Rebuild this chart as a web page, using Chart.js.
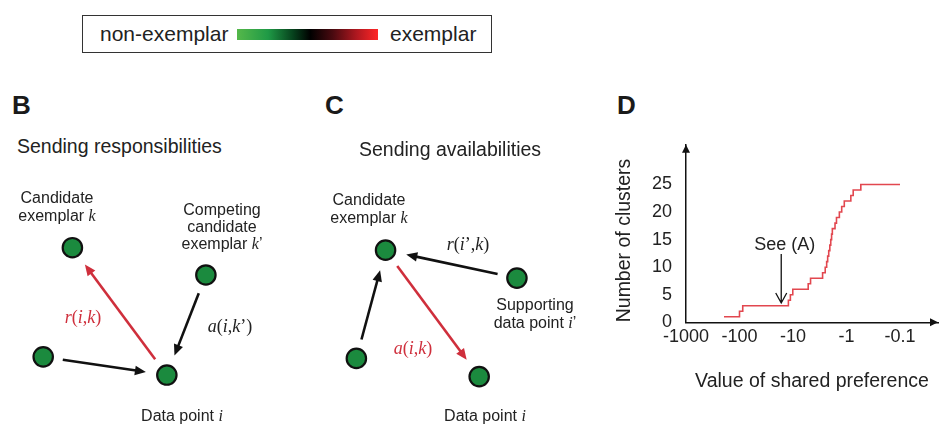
<!DOCTYPE html>
<html>
<head>
<meta charset="utf-8">
<script src="https://cdn.jsdelivr.net/npm/chart.js@4.4.0/dist/chart.umd.min.js"></script>
<style>
  body { margin: 0; background: #fff; }
  #fig { position: relative; width: 939px; height: 424px; overflow: hidden;
         font-family: "Liberation Sans", Arial, sans-serif; color: #222; }
  #fig canvas { position: absolute; }
  .t { position: absolute; white-space: nowrap; line-height: 1.2; z-index: 2; }
  .c { transform: translate(-50%, -50%); text-align: center; }
  .lbl { font-size: 16px; }
  .math { font-family: "Liberation Serif", "Times New Roman", serif; font-size: 18px; }
  .m { font-family: "Liberation Serif", "Times New Roman", serif; font-style: italic; }
  .panel { font-size: 26px; font-weight: bold; line-height: 1; color: #1a1a1a; }
  .red { color: #cf2f3c; }
</style>
</head>
<body>
<div id="fig">
  <!-- colour key -->
  <div style="position:absolute;left:82px;top:15px;width:408px;height:36px;border:1.5px solid #333;"></div>
  <div class="t" style="left:100px;top:21px;font-size:21px;">non-exemplar</div>
  <div style="position:absolute;left:237px;top:29px;width:141px;height:11px;
       background:linear-gradient(to right,#55b84a 0%,#1f9a46 22%,#06401c 40%,#000 52%,#4a0a10 68%,#b01820 85%,#ff2626 100%);"></div>
  <div class="t" style="left:390px;top:21px;font-size:21px;">exemplar</div>

  <!-- panel B -->
  <div class="t panel" style="left:12px;top:92px;">B</div>
  <div class="t" style="left:17px;top:135px;font-size:19.5px;">Sending responsibilities</div>
  <div class="t c lbl" style="left:57px;top:207px;line-height:18px;">Candidate<br>exemplar <span class="m">k</span></div>
  <div class="t c lbl" style="left:222px;top:226px;line-height:17px;">Competing<br>candidate<br>exemplar <span class="m">k</span>’</div>
  <div class="t c math red" style="left:83px;top:318px;"><span class="m">r</span>(<span class="m">i</span>,<span class="m">k</span>)</div>
  <div class="t c math" style="left:230px;top:327px;"><span class="m">a</span>(<span class="m">i</span>,<span class="m">k</span>’)</div>
  <div class="t c lbl" style="left:182px;top:416px;">Data point <span class="m">i</span></div>
  <canvas id="chartB" width="300" height="264" style="left:0;top:160px;"></canvas>

  <!-- panel C -->
  <div class="t panel" style="left:325px;top:92px;">C</div>
  <div class="t" style="left:359px;top:138px;font-size:19.5px;">Sending availabilities</div>
  <div class="t c lbl" style="left:369px;top:209px;line-height:18px;">Candidate<br>exemplar <span class="m">k</span></div>
  <div class="t c math" style="left:468px;top:245px;"><span class="m">r</span>(<span class="m">i</span>’,<span class="m">k</span>)</div>
  <div class="t c lbl" style="left:535px;top:314px;line-height:18px;">Supporting<br>data point <span class="m">i</span>’</div>
  <div class="t c math red" style="left:413px;top:349px;"><span class="m">a</span>(<span class="m">i</span>,<span class="m">k</span>)</div>
  <div class="t c lbl" style="left:485px;top:416px;">Data point <span class="m">i</span></div>
  <canvas id="chartC" width="300" height="264" style="left:300px;top:160px;"></canvas>

  <!-- panel D -->
  <div class="t panel" style="left:617px;top:92px;">D</div>
  <canvas id="chartD" width="339" height="304" style="left:600px;top:120px;"></canvas>
</div>

<script>
// ---- panel B / C diagrams (diagram units, y up) ----
// node order: candidate exemplar k, competing k' / supporting i', other point, data point i
const bNodes = [[6.57, 18.07], [21.07, 15.07], [3.4, 6.07], [16.83, 4.07]];
const bArrows = [
  { from: 3, to: 0, kind: 'message' },   // r(i,k)
  { from: 1, to: 3, kind: 'input' },     // a(i,k')
  { from: 2, to: 3, kind: 'input' }
];
const cNodes = [[8.0, 17.8], [22.27, 14.73], [4.83, 5.9], [18.17, 3.9]];
const cArrows = [
  { from: 1, to: 0, kind: 'input' },     // r(i',k)
  { from: 2, to: 0, kind: 'input' },
  { from: 0, to: 3, kind: 'message' }    // a(i,k)
];

// ---- panel D: number of clusters vs shared preference ----
const preferenceSteps = [-195, -100, -87, -12.2, -11.2, -10.1, -5.2, -4.7, -2.8, -2.5, -2.35, -2.25,
                         -2.15, -2.05, -1.97, -1.9, -1.84, -1.64, -1.54, -1.36, -1.23, -1.1, -0.83, -0.75, -0.54, -0.1];
const clusterCounts = [1, 2, 3, 4, 5, 6, 7, 8, 9, 10, 11, 12, 13, 14, 15, 16, 17, 18, 19, 20, 21, 22, 23, 24, 25, 25];
const xTickValues = [-1000, -100, -10, -1, -0.1];
const xTickLabels = ['-1000', '-100', '-10', '-1', '-0.1'];
const yTickValues = [0, 5, 10, 15, 20, 25];
const seeAPreference = -16.6;   // where the "See (A)" arrow points

Chart.defaults.font.family = '"Liberation Sans", Arial, sans-serif';
Chart.defaults.color = '#222';

const kindColor = { message: '#cf2f3c', input: '#111' };
const START_GAP = 2.15, END_GAP = 2.3, HEAD = 1.0;   // diagram units

const arrowHeads = {
  id: 'arrowHeads',
  afterDatasetsDraw(chart) {
    const { ctx, scales } = chart;
    chart.data.datasets.forEach(ds => {
      if (!ds.tip) return;
      const x0 = scales.x.getPixelForValue(ds.data[0].x), y0 = scales.y.getPixelForValue(ds.data[0].y);
      const tx = scales.x.getPixelForValue(ds.tip.x), ty = scales.y.getPixelForValue(ds.tip.y);
      const ang = Math.atan2(ty - y0, tx - x0);
      const len = 11, half = 4.8;
      ctx.save();
      ctx.fillStyle = ds.borderColor;
      ctx.beginPath();
      ctx.moveTo(tx, ty);
      ctx.lineTo(tx - len * Math.cos(ang) + half * Math.sin(ang), ty - len * Math.sin(ang) - half * Math.cos(ang));
      ctx.lineTo(tx - len * Math.cos(ang) - half * Math.sin(ang), ty - len * Math.sin(ang) + half * Math.cos(ang));
      ctx.closePath();
      ctx.fill();
      ctx.restore();
    });
  }
};

function drawDiagram(id, nodes, arrows) {
  const arrowSets = arrows.map(a => {
    const [x1, y1] = nodes[a.from], [x2, y2] = nodes[a.to];
    const len = Math.hypot(x2 - x1, y2 - y1), ux = (x2 - x1) / len, uy = (y2 - y1) / len;
    const tip = { x: x2 - ux * END_GAP, y: y2 - uy * END_GAP };
    return {
      type: 'line',
      data: [{ x: x1 + ux * START_GAP, y: y1 + uy * START_GAP },
             { x: tip.x - ux * HEAD * 0.7, y: tip.y - uy * HEAD * 0.7 }],
      tip: tip,
      borderColor: kindColor[a.kind],
      borderWidth: 2.6,
      pointRadius: 0,
      fill: false
    };
  });
  new Chart(document.getElementById(id), {
    type: 'scatter',
    data: {
      datasets: [{
        data: nodes.map(([x, y]) => ({ x, y })),
        pointRadius: 9.7,
        pointBorderWidth: 2.2,
        pointBackgroundColor: '#1b8a3e',
        pointBorderColor: '#111'
      }].concat(arrowSets)
    },
    options: {
      responsive: false,
      animation: false,
      devicePixelRatio: 1,
      events: [],
      layout: { padding: 0 },
      plugins: { legend: { display: false }, tooltip: { enabled: false } },
      scales: {
        x: { type: 'linear', min: 0, max: 30, display: false },
        y: { type: 'linear', min: 0, max: 26.4, display: false }
      }
    },
    plugins: [arrowHeads]
  });
}

drawDiagram('chartB', bNodes, bArrows);
drawDiagram('chartC', cNodes, cArrows);

const axisDecor = {
  id: 'axisDecor',
  afterDraw(chart) {
    const { ctx, chartArea: a, scales } = chart;
    ctx.save();
    ctx.fillStyle = '#111';
    ctx.beginPath();
    ctx.moveTo(a.left, a.top); ctx.lineTo(a.left - 4, a.top + 8); ctx.lineTo(a.left + 4, a.top + 8);
    ctx.closePath(); ctx.fill();
    ctx.beginPath();
    ctx.moveTo(a.right, a.bottom); ctx.lineTo(a.right - 8, a.bottom - 4); ctx.lineTo(a.right - 8, a.bottom + 4);
    ctx.closePath(); ctx.fill();

    // "See (A)" pointer
    const x = scales.x.getPixelForValue(-seeAPreference);
    const yTop = scales.y.getPixelForValue(12.4), yTip = scales.y.getPixelForValue(3.5);
    ctx.strokeStyle = '#111';
    ctx.lineWidth = 1.3;
    ctx.beginPath();
    ctx.moveTo(x, yTop); ctx.lineTo(x, yTip);
    ctx.moveTo(x - 5.5, yTip - 10); ctx.lineTo(x, yTip); ctx.lineTo(x + 5.5, yTip - 10);
    ctx.stroke();
    ctx.fillStyle = '#222';
    ctx.font = '18px "Liberation Sans", Arial, sans-serif';
    ctx.textAlign = 'center';
    ctx.textBaseline = 'middle';
    ctx.fillText('See (A)', x + 3.5, scales.y.getPixelForValue(14.1));
    ctx.restore();
  }
};

new Chart(document.getElementById('chartD'), {
  type: 'scatter',
  data: {
    datasets: [{
      data: preferenceSteps.map((p, i) => ({ x: -p, y: clusterCounts[i] })),
      showLine: true,
      stepped: 'before',
      borderColor: '#e2474f',
      borderWidth: 1.6,
      pointRadius: 0,
      fill: false
    }]
  },
  options: {
    responsive: false,
    animation: false,
    devicePixelRatio: 1,
    events: [],
    layout: { padding: { top: 19, right: 1, left: 0, bottom: 0 } },
    plugins: { legend: { display: false }, tooltip: { enabled: false } },
    scales: {
      x: {
        type: 'logarithmic',
        reverse: true,
        min: 0.0195,
        max: 1000,
        grid: { display: false, drawTicks: false },
        border: { display: true, color: '#111', width: 1.5 },
        afterBuildTicks: s => { s.ticks = xTickValues.map(v => ({ value: -v })); },
        afterFit: s => { s.height = 101.7; },
        ticks: {
          autoSkip: false, maxRotation: 0, padding: 4,
          font: { size: 18 },
          callback: (v, i) => xTickLabels[i]
        },
        title: { display: true, text: 'Value of shared preference', font: { size: 19.5 },
                 padding: { top: 0, bottom: 30.6 } }
      },
      y: {
        type: 'linear',
        min: 0,
        max: 32.2,
        grid: { display: false, drawTicks: false },
        border: { display: true, color: '#111', width: 1.5 },
        afterBuildTicks: s => { s.ticks = yTickValues.map(v => ({ value: v })); },
        afterFit: s => { s.width = 86; },
        ticks: { padding: 14, font: { size: 18 } },
        title: { display: true, text: 'Number of clusters', align: 'start', font: { size: 19.5 },
                 padding: { top: 13.3, bottom: 0 } }
      }
    }
  },
  plugins: [axisDecor]
});
</script>
</body>
</html>
